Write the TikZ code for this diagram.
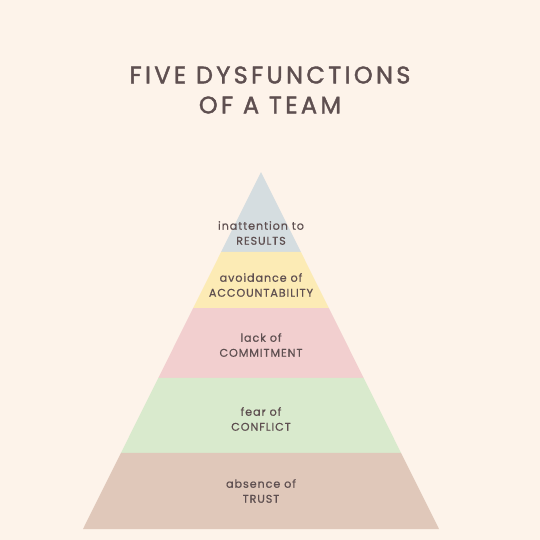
\documentclass[tikz,border=0pt]{standalone}
\usepackage{fontspec}
\setmainfont{Poppins}
\newfontfamily\titlefont[LetterSpace=14,FakeBold=1.6]{Poppins}
\newfontfamily\levelfont[LetterSpace=8,FakeBold=0.6]{Poppins}
\usetikzlibrary{calc}

\definecolor{bgcream}{HTML}{FDF3EA}
\definecolor{inkbrown}{HTML}{5E4F50}
\definecolor{lvlresults}{HTML}{D5DDE0}
\definecolor{lvlaccount}{HTML}{FCEBB5}
\definecolor{lvlcommit}{HTML}{F2CFCF}
\definecolor{lvlconflict}{HTML}{D9EACD}
\definecolor{lvltrust}{HTML}{E0C8BA}

\tikzset{
  heading/.style={text=inkbrown,font=\titlefont\fontsize{18}{20}\selectfont},
  levellabel/.style={text=inkbrown,align=center,inner sep=0pt,
    font=\levelfont\fontsize{8.4}{11.25}\selectfont},
}

\begin{document}
\begin{tikzpicture}[x=0.75pt,y=-0.75pt]
  \fill[bgcream] (0,0) rectangle (540,540);
  \node[heading] (title1) at (270,75) {FIVE DYSFUNCTIONS};
  \node[heading] (title2) at (270,105) {OF A TEAM};

  \coordinate (apex) at (261,172);
  \coordinate (bl) at (83,529);
  \coordinate (br) at (439,529);
  \foreach \a/\b/\c in {0/0.224/lvlresults,0.224/0.381/lvlaccount,
      0.381/0.577/lvlcommit,0.577/0.787/lvlconflict,0.787/1/lvltrust}
    \fill[\c] ($(apex)!\a!(bl)$) -- ($(apex)!\b!(bl)$)
      -- ($(apex)!\b!(br)$) -- ($(apex)!\a!(br)$) -- cycle;

  \node[levellabel] (results) at (261,233) {inattention to\\RESULTS};
  \node[levellabel] (account) at (261,285) {avoidance of\\ACCOUNTABILITY};
  \node[levellabel] (commit) at (261,345) {lack of\\COMMITMENT};
  \node[levellabel] (conflict) at (261,419) {fear of\\CONFLICT};
  \node[levellabel] (trust) at (261,491) {absence of\\TRUST};
\end{tikzpicture}
\end{document}
